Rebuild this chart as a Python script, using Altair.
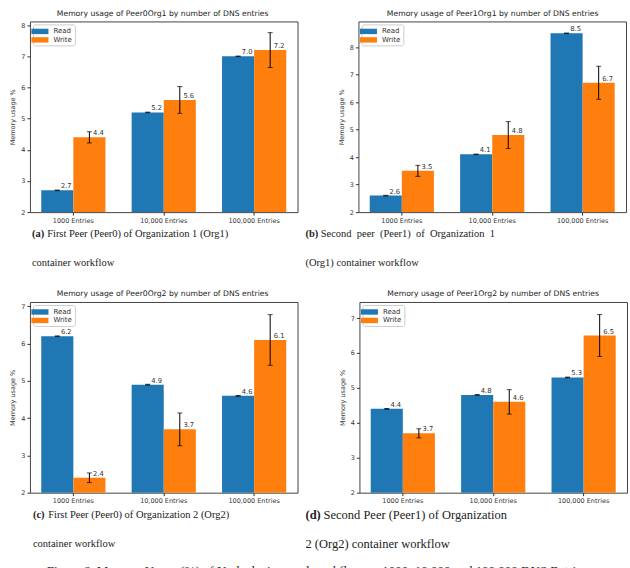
import altair as alt
import pandas as pd

# Categories and series
entries = ["1000 Entries", "10,000 Entries", "100,000 Entries"]
ops = ["Read", "Write"]
colors = ["#1f77b4", "#ff7f0e"]

# Peer0Org1
p0o1_read = [2.7, 5.2, 7.0]
p0o1_write = [4.4, 5.6, 7.2]
p0o1_read_err = [0.01, 0.01, 0.01]
p0o1_write_err = [0.18, 0.43, 0.56]

# Peer1Org1
p1o1_read = [2.6, 4.1, 8.5]
p1o1_write = [3.5, 4.8, 6.7]
p1o1_read_err = [0.01, 0.01, 0.01]
p1o1_write_err = [0.20, 0.49, 0.60]

# Peer0Org2
p0o2_read = [6.2, 4.9, 4.6]
p0o2_write = [2.4, 3.7, 6.1]
p0o2_read_err = [0.01, 0.01, 0.01]
p0o2_write_err = [0.13, 0.44, 0.68]

# Peer1Org2
p1o2_read = [4.4, 4.8, 5.3]
p1o2_write = [3.7, 4.6, 6.5]
p1o2_read_err = [0.01, 0.01, 0.01]
p1o2_write_err = [0.13, 0.35, 0.60]

BASE = 2
FONT = "DejaVu Sans"
SERIF = "Liberation Serif"
W, H = 268, 191
NB = "\u00a0"

# legend swatch: wide, flat rectangle
SWATCH = "M-1.9,-0.6H1.9V0.6H-1.9Z"


def panel(peer, read, write, read_err, write_err, ymax, yticks,
          cap_bold, cap1, cap2, cap_x, cap_size, title_dx):
    rows = []
    for i, e in enumerate(entries):
        for op, vals, errs in (("Read", read, read_err), ("Write", write, write_err)):
            v, err = vals[i], errs[i]
            rows.append({"entry": e, "op": op, "value": v,
                         "lo": v - err, "hi": v + err, "label": f"{v:.1f}"})
    df = pd.DataFrame(rows)

    x = alt.X("entry:N", sort=entries,
              scale=alt.Scale(paddingInner=0.29, paddingOuter=0.125),
              axis=alt.Axis(title=None, labelAngle=0, labelFontSize=6.5,
                            labelFont=FONT, labelColor="#333", tickSize=3,
                            tickColor="#333", labelPadding=2, domain=False))
    xo = alt.XOffset("op:N", sort=ops,
                     scale=alt.Scale(paddingInner=0, paddingOuter=0))
    yscale = alt.Scale(domain=[BASE, ymax], nice=False, zero=False)
    yaxis = alt.Axis(title="Memory usage %", values=yticks,
                     labelOverlap=False, grid=False, domain=False,
                     labelFontSize=6.5, labelFont=FONT, labelColor="#333",
                     titleFont=FONT, titleFontSize=6.5,
                     titleFontWeight="normal", titleColor="#333",
                     tickSize=3, tickColor="#333", labelPadding=2,
                     titlePadding=5)

    def yenc(field):
        return alt.Y(field, scale=yscale, axis=yaxis)

    base = alt.Chart(df)

    bars = base.mark_bar().encode(
        x=x, xOffset=xo,
        y=yenc("value:Q"),
        y2=alt.datum(BASE),
        color=alt.Color("op:N", scale=alt.Scale(domain=ops, range=colors),
                        legend=alt.Legend(
                            title=None, orient="top-left", offset=3,
                            padding=2.5, strokeColor="#cccccc",
                            fillColor="white", cornerRadius=2,
                            labelFontSize=7, labelFont=FONT,
                            labelColor="#333", symbolType=SWATCH,
                            symbolSize=81, symbolStrokeWidth=0,
                            rowPadding=0.5, labelOffset=9)),
    )

    err_rule = base.mark_rule(color="black", strokeWidth=1).encode(
        x=x, xOffset=xo, y=yenc("lo:Q"), y2="hi:Q")
    cap_lo = base.mark_tick(color="black", thickness=1, size=5,
                            orient="horizontal").encode(
        x=x, xOffset=xo, y=yenc("lo:Q"))
    cap_hi = base.mark_tick(color="black", thickness=1, size=5,
                            orient="horizontal").encode(
        x=x, xOffset=xo, y=yenc("hi:Q"))

    labels = base.mark_text(dx=9, dy=-1, baseline="bottom", fontSize=6.8,
                            font=FONT, color="#333").encode(
        x=x, xOffset=xo, y=yenc("value:Q"), text="label:N")

    cap_df = alt.Chart(pd.DataFrame({"t": [0]}))
    bold_w = cap_size * 1.45
    cap_a = cap_df.mark_text(align="left", baseline="middle", font=SERIF,
                             fontSize=cap_size, fontWeight="bold",
                             color="#222").encode(
        x=alt.value(cap_x), y=alt.value(H + 22), text=alt.value(cap_bold))
    cap_b = cap_df.mark_text(align="left", baseline="middle", font=SERIF,
                             fontSize=cap_size, color="#222",
                             dx=bold_w).encode(
        x=alt.value(cap_x), y=alt.value(H + 22), text=alt.value(cap1))
    cap_c = cap_df.mark_text(align="left", baseline="middle", font=SERIF,
                             fontSize=cap_size, color="#222").encode(
        x=alt.value(cap_x), y=alt.value(H + 51), text=alt.value(cap2))

    return alt.layer(bars, err_rule, cap_lo, cap_hi, labels,
                     cap_a, cap_b, cap_c).properties(
        width=W, height=H,
        title=alt.TitleParams(
            f"Memory usage of {peer} by number of DNS entries",
            font=FONT, fontSize=7.7, fontWeight="normal", color="#222",
            offset=4, frame="bounds", anchor="middle", dx=title_dx),
    )


pa = panel("Peer0Org1", p0o1_read, p0o1_write, p0o1_read_err, p0o1_write_err,
           8.12, [2, 3, 4, 5, 6, 7, 8],
           "(a)", "First Peer (Peer0) of Organization 1 (Org1)",
           "container workflow", 2, 10.5, 9)
pb = panel("Peer1Org1", p1o1_read, p1o1_write, p1o1_read_err, p1o1_write_err,
           8.93, [2, 3, 4, 5, 6, 7, 8],
           "(b)",
           f"Second {NB}peer {NB}(Peer1) {NB}of {NB}Organization {NB}1",
           "(Org1) container workflow", -53, 10.5, 27)
pc = panel("Peer0Org2", p0o2_read, p0o2_write, p0o2_read_err, p0o2_write_err,
           7.12, [2, 3, 4, 5, 6, 7],
           "(c)", "First Peer (Peer0) of Organization 2 (Org2)",
           "container workflow", 3, 10.5, 9)
pd_ = panel("Peer1Org2", p1o2_read, p1o2_write, p1o2_read_err, p1o2_write_err,
            7.46, [2, 3, 4, 5, 6, 7],
            "(d)", "Second Peer (Peer1) of Organization",
            "2 (Org2) container workflow", -54, 12.5, 27)

row1 = alt.hconcat(pa, pb, spacing=6).resolve_scale(color="independent")
row2 = alt.hconcat(pc, pd_, spacing=6).resolve_scale(color="independent")

chart = alt.vconcat(row1, row2, spacing=20).resolve_scale(
    color="independent"
).properties(
    title=alt.TitleParams(
        "Figure 6. Memory Usage (%) of Node devices and workflow on 1000, "
        "10,000 and 100,000 DNS Entries.",
        orient="bottom", anchor="middle", font=SERIF, fontSize=13,
        fontWeight="normal", color="#222", offset=14),
    padding={"left": 9, "top": 8, "right": 2, "bottom": 2},
    background="white",
).configure_view(stroke="#444", strokeWidth=1)

chart.save("out.html", embed_options={"renderer": "svg", "actions": False})
